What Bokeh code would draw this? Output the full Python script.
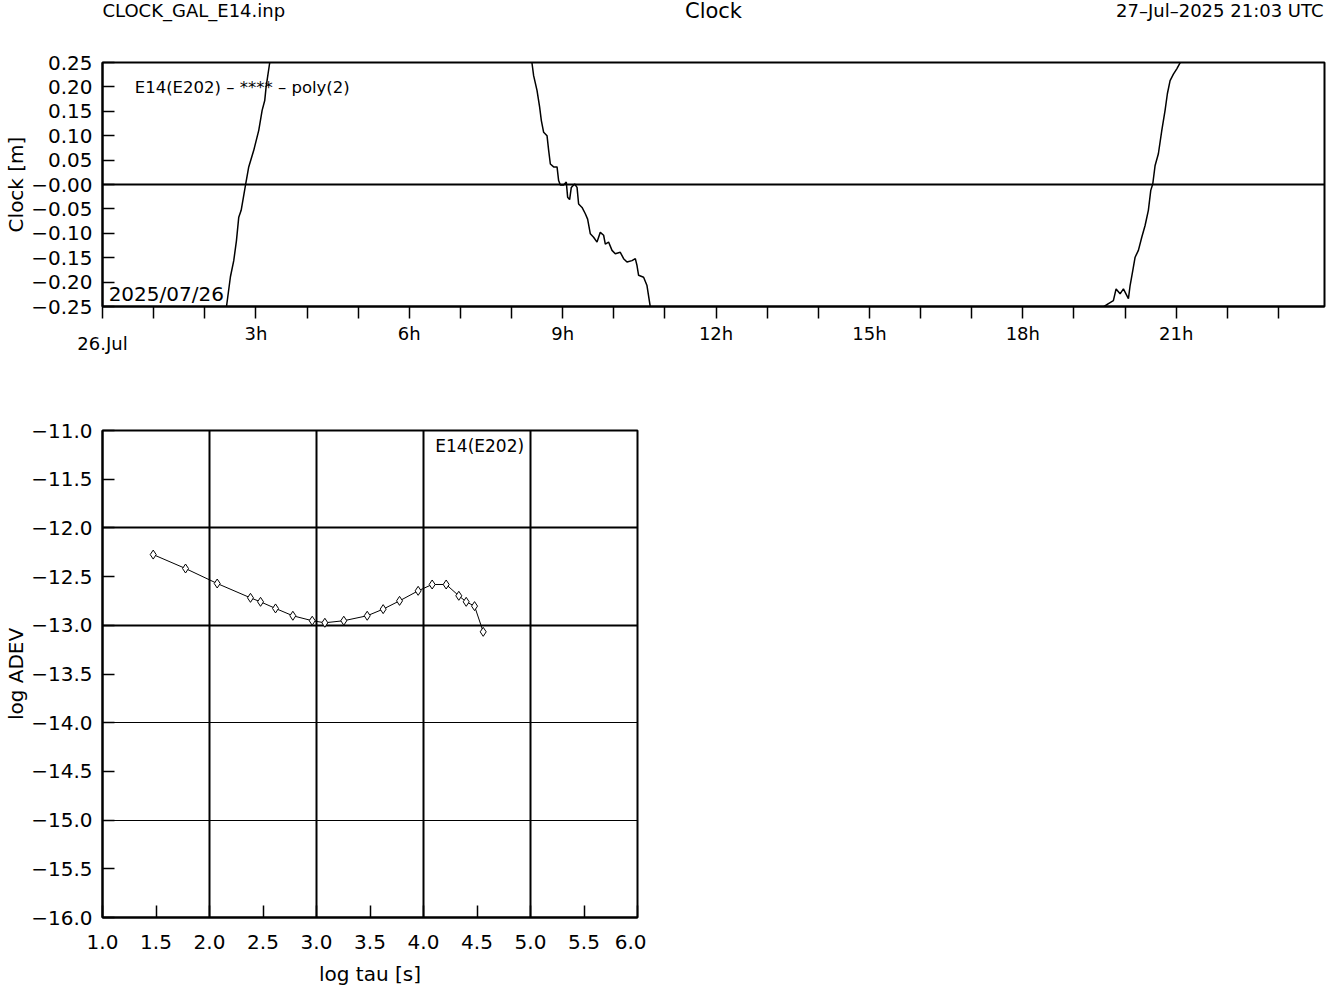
from bokeh.plotting import figure
from bokeh.models import FixedTicker, CustomJSTickFormatter, Span, Grid, Range1d, Label, LinearAxis
from bokeh.layouts import column
from bokeh.embed import file_html
from bokeh.resources import INLINE
from bokeh.core.properties import value

FONT = "DejaVu Sans"

# ---------------- texts ----------------
file_name = "CLOCK_GAL_E14.inp"
title_text = "Clock"
stamp_text = "27\u2013Jul\u20132025 21:03 UTC"
clock_legend = "E14(E202) \u2013 **** \u2013 poly(2)"
date_text = "2025/07/26"
day_text = "26.Jul"
adev_legend = "E14(E202)"

# ---------------- clock data (hours of day, metres) ----------------
seg1_hours = [2.38, 2.424, 2.502, 2.567, 2.620, 2.665, 2.712, 2.796, 2.860, 2.958,
              3.056, 3.122, 3.173, 3.200, 3.271, 3.30]
seg1_clock = [-0.280, -0.251, -0.189, -0.156, -0.115, -0.067, -0.053, -0.002, 0.036, 0.070,
              0.111, 0.152, 0.172, 0.200, 0.250, 0.280]

seg2_hours = [8.35, 8.401, 8.432, 8.498, 8.549, 8.583, 8.628, 8.694, 8.726, 8.759,
              8.823, 8.890, 8.921, 8.955, 9.019, 9.071, 9.097, 9.136, 9.169, 9.234,
              9.281, 9.312, 9.379, 9.443, 9.488, 9.541, 9.605, 9.672, 9.736, 9.801,
              9.834, 9.898, 9.965, 10.029, 10.127, 10.192, 10.258, 10.356, 10.421, 10.454,
              10.485, 10.583, 10.649, 10.714, 10.75]
seg2_clock = [0.280, 0.248, 0.223, 0.193, 0.159, 0.131, 0.107, 0.100, 0.070, 0.042,
              0.036, 0.036, 0.008, -0.001, -0.001, 0.005, -0.026, -0.031, -0.006, 0.001,
              -0.006, -0.040, -0.047, -0.060, -0.071, -0.101, -0.108, -0.118, -0.098, -0.104,
              -0.122, -0.118, -0.135, -0.142, -0.139, -0.152, -0.159, -0.156, -0.152, -0.166,
              -0.186, -0.190, -0.207, -0.251, -0.280]

seg3_hours = [19.50, 19.576, 19.674, 19.771, 19.824, 19.902, 19.967, 20.065, 20.098, 20.151,
              20.196, 20.260, 20.326, 20.391, 20.455, 20.502, 20.541, 20.587, 20.651, 20.718,
              20.782, 20.827, 20.880, 20.945, 21.011, 21.075, 21.15]
seg3_clock = [-0.280, -0.251, -0.244, -0.238, -0.214, -0.224, -0.214, -0.234, -0.207, -0.176,
              -0.149, -0.135, -0.108, -0.084, -0.053, -0.012, 0.001, 0.039, 0.063, 0.111,
              0.152, 0.186, 0.213, 0.226, 0.237, 0.249, 0.280]

# ---------------- Allan deviation data ----------------
adev_logtau = [1.474, 1.776, 2.072, 2.383, 2.477, 2.617, 2.779, 2.960, 3.078, 3.255,
               3.474, 3.623, 3.776, 3.950, 4.081, 4.212, 4.330, 4.399, 4.477, 4.558]
adev_log = [-12.274, -12.417, -12.571, -12.718, -12.759, -12.827, -12.902, -12.953, -12.974, -12.953,
            -12.902, -12.834, -12.749, -12.646, -12.581, -12.581, -12.697, -12.759, -12.803, -13.067]

# ---------------- ticks ----------------
hour_ticks = list(range(0, 24))
day_ticks = [0]
clock_ticks = [-0.25, -0.2, -0.15, -0.1, -0.05, 0.0, 0.05, 0.1, 0.15, 0.2, 0.25]
tau_ticks = [1.0, 1.5, 2.0, 2.5, 3.0, 3.5, 4.0, 4.5, 5.0, 5.5, 6.0]
adev_ticks = [-16.0, -15.5, -15.0, -14.5, -14.0, -13.5, -13.0, -12.5, -12.0, -11.5, -11.0]
tau_grid = [2.0, 3.0, 4.0, 5.0]
adev_grid_major = [-12.0, -13.0]
adev_grid_minor = [-14.0, -15.0]

PAGE_W = 1333
LEFT = 102
RIGHT = 9

# ================= header =================
hdr = figure(width=PAGE_W, height=34, x_range=Range1d(LEFT, PAGE_W - RIGHT), y_range=Range1d(34, 0),
             toolbar_location=None, output_backend="svg", min_border=0,
             min_border_left=LEFT, min_border_right=RIGHT)
hdr.axis.visible = False
hdr.grid.visible = False
hdr.outline_line_color = None
hdr.text(x=[102], y=[10], text=[file_name], text_font=value(FONT), text_font_size="18px",
         text_align="left", text_baseline="middle", text_color="black")
hdr.text(x=[713], y=[10], text=[title_text], text_font=value(FONT), text_font_size="21px",
         text_align="center", text_baseline="middle", text_color="black")
hdr.text(x=[1323], y=[10], text=[stamp_text], text_font=value(FONT), text_font_size="18px",
         text_align="right", text_baseline="middle", text_color="black")

# ================= clock plot =================
p1 = figure(width=PAGE_W, height=344, x_range=Range1d(0, 23.9), y_range=Range1d(-0.25, 0.25),
            toolbar_location=None, output_backend="svg",
            min_border_left=LEFT, min_border_right=RIGHT, min_border_top=28, min_border_bottom=72)
p1.grid.visible = False
p1.outline_line_color = "black"
p1.outline_line_width = 2

p1.xaxis.ticker = FixedTicker(ticks=hour_ticks)
p1.xaxis.formatter = CustomJSTickFormatter(
    code="if (tick % 3 == 0 && tick > 0) { return tick + 'h'; } return '';")
p1.xaxis.major_tick_in = 0
p1.xaxis.major_tick_out = 12
p1.xaxis.minor_tick_line_color = None
p1.xaxis.major_tick_line_width = 1.5
p1.xaxis.axis_line_width = 2
p1.xaxis.major_label_standoff = 4
p1.xaxis.major_label_text_font = FONT
p1.xaxis.major_label_text_font_size = "18px"
p1.xaxis.major_label_text_color = "black"

day_axis = LinearAxis(ticker=FixedTicker(ticks=day_ticks),
                      formatter=CustomJSTickFormatter(code="return '" + day_text + "';"),
                      major_tick_in=0, major_tick_out=0, minor_tick_line_color=None,
                      axis_line_color=None, major_label_standoff=-14,
                      major_label_text_font=FONT, major_label_text_font_size="18px",
                      major_label_text_color="black")
p1.add_layout(day_axis, "below")

p1.yaxis.ticker = FixedTicker(ticks=clock_ticks)
p1.yaxis.formatter = CustomJSTickFormatter(
    code="return (tick > 1e-9 ? '' : '\u2212') + Math.abs(tick).toFixed(2);")
p1.yaxis.major_tick_in = 12
p1.yaxis.major_tick_out = 0
p1.yaxis.minor_tick_line_color = None
p1.yaxis.major_tick_line_width = 1.5
p1.yaxis.axis_line_width = 2
p1.yaxis.major_label_standoff = 10
p1.yaxis.major_label_text_font = FONT
p1.yaxis.major_label_text_font_size = "20px"
p1.yaxis.major_label_text_color = "black"
p1.yaxis.axis_label = "Clock [m]"
p1.yaxis.axis_label_text_font = FONT
p1.yaxis.axis_label_text_font_size = "20px"
p1.yaxis.axis_label_text_font_style = "normal"
p1.yaxis.axis_label_standoff = 0
p1.yaxis.axis_label_text_color = "black"

p1.add_layout(Span(location=0, dimension="width", line_color="black", line_width=2))

for hx, cy in ((seg1_hours, seg1_clock), (seg2_hours, seg2_clock), (seg3_hours, seg3_clock)):
    p1.line(hx, cy, line_color="black", line_width=1.5)

p1.add_layout(Label(x=0.63, y=0.199, text=clock_legend, text_font=FONT, text_font_size="16.5px",
                    text_align="left", text_baseline="middle", text_color="black"))
p1.add_layout(Label(x=0.12, y=-0.2245, text=date_text, text_font=FONT,
                    text_font_size="20px", text_align="left", text_baseline="middle",
                    text_color="black"))

# ================= ADEV plot =================
p2 = figure(width=LEFT + 535 + RIGHT, height=610, x_range=Range1d(1.0, 6.0), y_range=Range1d(-16.0, -11.0),
            toolbar_location=None, output_backend="svg",
            min_border_left=LEFT, min_border_right=RIGHT, min_border_top=52, min_border_bottom=70)
p2.outline_line_color = "black"
p2.outline_line_width = 2

p2.xgrid.ticker = FixedTicker(ticks=tau_grid)
p2.xgrid.grid_line_color = "black"
p2.xgrid.grid_line_width = 2
p2.ygrid.ticker = FixedTicker(ticks=adev_grid_major)
p2.ygrid.grid_line_color = "black"
p2.ygrid.grid_line_width = 2
p2.add_layout(Grid(dimension=1, ticker=FixedTicker(ticks=adev_grid_minor),
                   grid_line_color="black", grid_line_width=1))

p2.xaxis.ticker = FixedTicker(ticks=tau_ticks)
p2.xaxis.formatter = CustomJSTickFormatter(code="return tick.toFixed(1);")
p2.yaxis.ticker = FixedTicker(ticks=adev_ticks)
p2.yaxis.formatter = CustomJSTickFormatter(
    code="return (tick < 0 ? '\u2212' : '') + Math.abs(tick).toFixed(1);")
for ax in (p2.xaxis, p2.yaxis):
    ax.major_tick_in = 12
    ax.major_tick_out = 0
    ax.minor_tick_line_color = None
    ax.major_tick_line_width = 1.5
    ax.axis_line_width = 2
    ax.major_label_text_font = FONT
    ax.major_label_text_font_size = "20px"
    ax.major_label_text_color = "black"
    ax.axis_label_text_font = FONT
    ax.axis_label_text_font_size = "20px"
    ax.axis_label_text_font_style = "normal"
    ax.axis_label_text_color = "black"
p2.xaxis.major_label_standoff = 17
p2.xaxis.axis_label = "log tau [s]"
p2.xaxis.axis_label_standoff = 10
p2.yaxis.major_label_standoff = 10
p2.yaxis.axis_label = "log ADEV"
p2.yaxis.axis_label_standoff = 0

p2.line(adev_logtau, adev_log, line_color="black", line_width=1)
p2.scatter(adev_logtau, adev_log, marker="diamond", size=9, fill_color="white",
           line_color="black", line_width=1)
p2.add_layout(Label(x=4.11, y=-11.06, text=adev_legend, text_font=FONT,
                    text_font_size="17px", text_align="left", text_baseline="top",
                    text_color="black"))

layout = column(hdr, p1, p2)
open("out.html", "w").write(file_html(layout, INLINE))
